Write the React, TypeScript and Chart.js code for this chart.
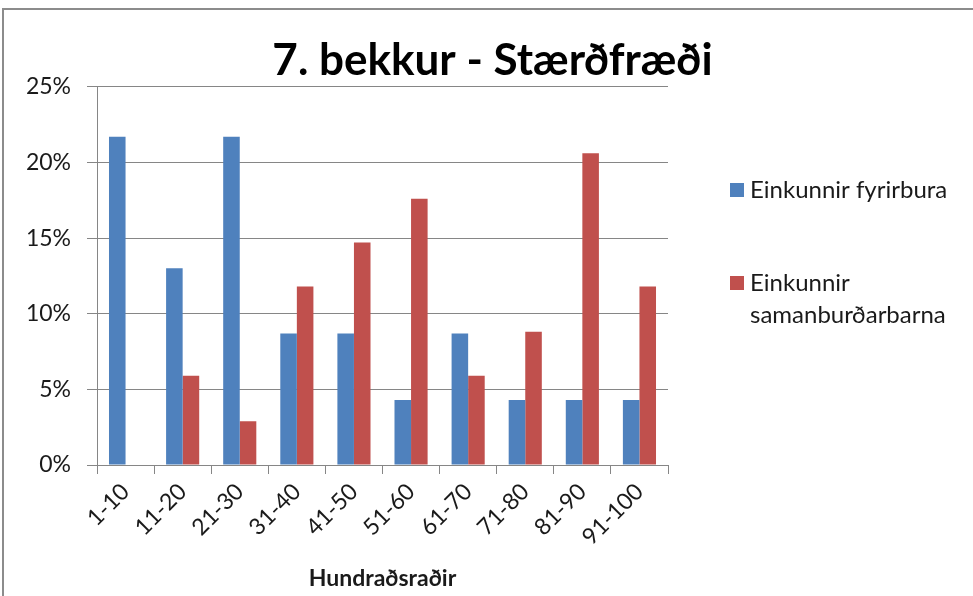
import React, { useEffect, useRef } from "react";
import { Chart, registerables } from "chart.js";

Chart.register(...registerables);

const chartTitle = "7. bekkur - Stærðfræði";
const xAxisTitle = "Hundraðsraðir";
const categories = ["1-10", "11-20", "21-30", "31-40", "41-50", "51-60", "61-70", "71-80", "81-90", "91-100"];
const seriesNames = ["Einkunnir fyrirbura", "Einkunnir samanburðarbarna"];
const fyrirbura = [21.7, 13.0, 21.7, 8.7, 8.7, 4.3, 8.7, 4.3, 4.3, 4.3];
const samanburdarborn = [0, 5.9, 2.9, 11.8, 14.7, 17.6, 5.9, 8.8, 20.6, 11.8];
const yTickValues = [0, 5, 10, 15, 20, 25];
const yTickLabels = ["0%", "5%", "10%", "15%", "20%", "25%"];

const BLUE = "#4F81BD";
const RED = "#C0504D";
const GRID = "#868686";
const FONT = "Lato, 'Open Sans', sans-serif";

const framePlugin = {
  id: "frameAndLegend",
  beforeDraw(chart: any) {
    const ctx = chart.ctx;
    ctx.save();
    ctx.fillStyle = "#ffffff";
    ctx.fillRect(0, 0, chart.width, chart.height);
    ctx.restore();
  },
  afterDraw(chart: any) {
    const ctx = chart.ctx;
    ctx.save();
    // outer frame
    ctx.strokeStyle = "#8c8c8c";
    ctx.lineWidth = 2;
    ctx.beginPath();
    ctx.moveTo(3, chart.height);
    ctx.lineTo(3, 9);
    ctx.lineTo(chart.width, 9);
    ctx.stroke();

    // legend
    const legendX = 730;
    const itemY = [190, 283];
    const lineH = 32;
    const maxW = 220;
    ctx.font = `24px ${FONT}`;
    ctx.textBaseline = "middle";
    ctx.textAlign = "left";
    chart.data.datasets.forEach((ds: any, i: number) => {
      const y = itemY[i];
      ctx.fillStyle = ds.backgroundColor;
      ctx.fillRect(legendX, y - 7, 14, 14);
      const words = String(ds.label).split(" ");
      const lines: string[] = [];
      let cur = "";
      words.forEach((w) => {
        const test = cur ? cur + " " + w : w;
        if (ctx.measureText(test).width > maxW && cur) {
          lines.push(cur);
          cur = w;
        } else cur = test;
      });
      if (cur) lines.push(cur);
      ctx.fillStyle = "#1a1a1a";
      lines.forEach((ln, j) => ctx.fillText(ln, legendX + 20, y + j * lineH));
    });
    ctx.restore();
  },
};

export default function App() {
  const ref = useRef<HTMLCanvasElement | null>(null);

  useEffect(() => {
    if (!ref.current) return;
    const chart = new Chart(ref.current, {
      type: "bar",
      data: {
        labels: categories,
        datasets: [
          { label: seriesNames[0], data: fyrirbura, backgroundColor: BLUE, borderWidth: 0 },
          { label: seriesNames[1], data: samanburdarborn, backgroundColor: RED, borderWidth: 0 },
        ],
      },
      options: {
        animation: false,
        responsive: false,
        maintainAspectRatio: false,
        datasets: { bar: { barPercentage: 1, categoryPercentage: 0.58 } },
        layout: { padding: { top: 34, left: 12, right: 0, bottom: 0 } },
        plugins: {
          legend: { display: false },
          tooltip: { enabled: false },
          title: {
            display: true,
            text: chartTitle,
            color: "#000",
            font: { family: FONT, size: 44, weight: "bold" },
            padding: { top: 0, bottom: 0 },
          },
        },
        scales: {
          x: {
            grid: { display: true, drawOnChartArea: false, offset: true, tickLength: 9, color: GRID },
            border: { display: true, color: GRID, width: 1 },
            ticks: {
              minRotation: 45,
              maxRotation: 45,
              padding: 4,
              color: "#1a1a1a",
              font: { family: FONT, size: 23 },
            },
            title: {
              display: true,
              text: xAxisTitle,
              color: "#1a1a1a",
              font: { family: FONT, size: 23, weight: "bold" },
              padding: { top: 0, bottom: 4 },
            },
            afterFit: (s: any) => {
              s.height = 131;
            },
          },
          y: {
            min: 0,
            max: 25,
            afterBuildTicks: (s: any) => {
              s.ticks = yTickValues.map((v) => ({ value: v }));
            },
            grid: { color: GRID, tickLength: 10, lineWidth: 1 },
            border: { display: true, color: GRID, width: 1 },
            ticks: {
              padding: 16,
              color: "#1a1a1a",
              font: { family: FONT, size: 23 },
              callback: (_v: any, i: number) => yTickLabels[i],
            },
            afterFit: (s: any) => {
              s.width = 85;
            },
          },
          r: {
            type: "linear",
            position: "right",
            display: true,
            grid: { display: false },
            border: { display: false },
            ticks: { display: false },
            afterFit: (s: any) => {
              s.width = 305;
            },
          },
        },
      } as any,
      plugins: [framePlugin],
    });
    return () => chart.destroy();
  }, []);

  return (
    <div style={{ position: "absolute", left: 0, top: 0, width: 973, height: 596, background: "#fff" }}>
      <canvas ref={ref} width={973} height={596} style={{ display: "block", width: 973, height: 596 }} />
    </div>
  );
}
